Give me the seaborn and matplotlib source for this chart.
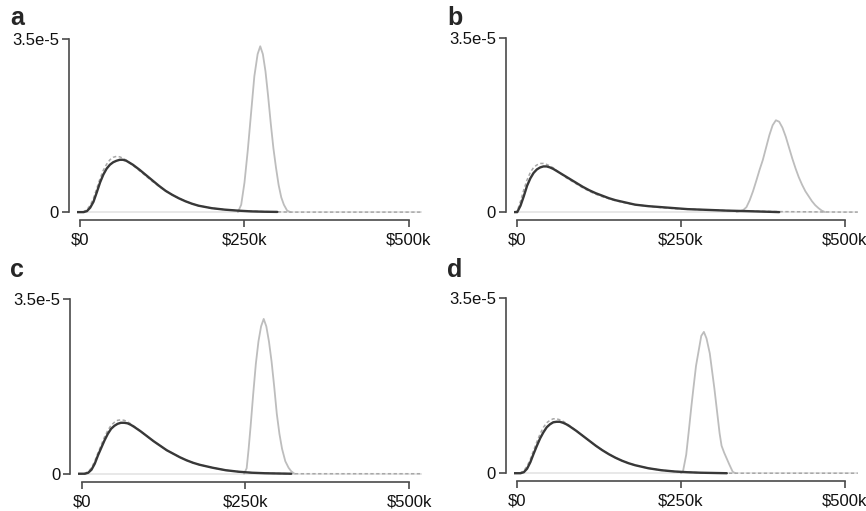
import numpy as np
import pandas as pd
import matplotlib.pyplot as plt
import seaborn as sns

# x grid (in $k) shared by the true density (solid) and the estimate (dashed)
x_main = [-5, 0, 5, 10, 15, 20, 25, 30, 35, 40, 45, 50, 55, 60, 65, 70, 75, 80, 90, 100,
          110, 120, 130, 140, 150, 160, 170, 180, 200, 220, 240, 260, 280, 300, 320, 350,
          400, 450, 500, 520]

# densities in units of 1e-5
dark_a = [0, 0, 0, 0.02, 0.09, 0.21, 0.40, 0.60, 0.76, 0.88, 0.96, 1.01, 1.04, 1.06, 1.06, 1.04,
          1.00, 0.96, 0.86, 0.75, 0.64, 0.53, 0.43, 0.35, 0.28, 0.22, 0.17, 0.13, 0.08, 0.05,
          0.03, 0.015, 0.008, 0.004, 0, 0, 0, 0, 0, 0]
dash_a = [0, 0, 0.01, 0.05, 0.14, 0.28, 0.48, 0.68, 0.85, 0.97, 1.06, 1.11, 1.13, 1.12, 1.09, 1.05,
          1.00, 0.95, 0.84, 0.73, 0.62, 0.52, 0.43, 0.35, 0.28, 0.22, 0.17, 0.13, 0.08, 0.05,
          0.03, 0.02, 0.01, 0.005, 0, 0, 0, 0, 0, 0]
dark_b = [0, 0, 0.13, 0.32, 0.53, 0.68, 0.79, 0.86, 0.90, 0.92, 0.92, 0.90, 0.87, 0.83, 0.79, 0.75,
          0.71, 0.67, 0.59, 0.51, 0.44, 0.38, 0.33, 0.28, 0.24, 0.21, 0.18, 0.15, 0.12, 0.10,
          0.08, 0.06, 0.05, 0.04, 0.03, 0.02, 0, 0, 0, 0]
dash_b = [0, 0.02, 0.22, 0.45, 0.65, 0.80, 0.90, 0.95, 0.98, 0.98, 0.96, 0.93, 0.89, 0.84, 0.79, 0.74,
          0.69, 0.65, 0.57, 0.49, 0.42, 0.36, 0.31, 0.27, 0.23, 0.20, 0.17, 0.15, 0.12, 0.09,
          0.07, 0.06, 0.05, 0.04, 0.03, 0.02, 0.01, 0.005, 0, 0]
dark_c = [0, 0, 0, 0.02, 0.08, 0.20, 0.37, 0.52, 0.67, 0.80, 0.90, 0.96, 1.00, 1.02, 1.02, 1.01,
          0.98, 0.94, 0.85, 0.75, 0.65, 0.56, 0.47, 0.40, 0.33, 0.27, 0.22, 0.18, 0.12, 0.07,
          0.04, 0.02, 0.01, 0.005, 0, 0, 0, 0, 0, 0]
dash_c = [0, 0, 0.01, 0.04, 0.12, 0.25, 0.42, 0.58, 0.74, 0.87, 0.97, 1.03, 1.07, 1.08, 1.07, 1.04,
          1.00, 0.95, 0.85, 0.75, 0.65, 0.56, 0.47, 0.40, 0.33, 0.27, 0.22, 0.18, 0.12, 0.07,
          0.04, 0.02, 0.01, 0.005, 0, 0, 0, 0, 0, 0]
dark_d = [0, 0, 0, 0.02, 0.09, 0.22, 0.39, 0.55, 0.70, 0.82, 0.92, 0.98, 1.02, 1.03, 1.03, 1.01,
          0.98, 0.94, 0.85, 0.75, 0.65, 0.55, 0.46, 0.38, 0.31, 0.25, 0.20, 0.16, 0.10, 0.06,
          0.035, 0.02, 0.01, 0.005, 0, 0, 0, 0, 0, 0]
dash_d = [0, 0, 0.01, 0.05, 0.14, 0.28, 0.46, 0.63, 0.79, 0.92, 1.01, 1.06, 1.09, 1.09, 1.07, 1.04,
          1.00, 0.95, 0.85, 0.75, 0.65, 0.55, 0.46, 0.38, 0.31, 0.25, 0.20, 0.16, 0.10, 0.06,
          0.035, 0.02, 0.01, 0.005, 0, 0, 0, 0, 0, 0]
# where the solid line stops ($k)
dark_end = {"a": 315, "b": 400, "c": 320, "d": 328}

# the narrow grey peaks
spike_x_a = [240, 245, 250, 255, 260, 265, 270, 274, 278, 282, 286, 290, 294, 298, 302, 306, 310, 315, 320]
spike_a = [0, 0.15, 0.6, 1.25, 2.0, 2.75, 3.2, 3.36, 3.2, 2.85, 2.35, 1.8, 1.3, 0.9, 0.55, 0.3, 0.15, 0.03, 0]
spike_x_b = [335, 345, 350, 355, 360, 365, 370, 375, 380, 385, 390, 395, 400, 405, 410, 415, 420,
             425, 430, 435, 440, 445, 450, 455, 460, 465, 470]
spike_b = [0, 0.04, 0.1, 0.24, 0.42, 0.63, 0.85, 1.05, 1.3, 1.55, 1.75, 1.85, 1.82, 1.7, 1.52, 1.3,
           1.08, 0.88, 0.7, 0.55, 0.42, 0.32, 0.22, 0.14, 0.08, 0.03, 0]
spike_x_c = [248, 252, 255, 258, 262, 266, 270, 274, 278, 282, 286, 290, 294, 298, 302, 306, 311, 316, 320, 325]
spike_c = [0, 0.11, 0.5, 0.95, 1.6, 2.2, 2.65, 2.95, 3.1, 2.95, 2.65, 2.25, 1.75, 1.2, 0.8, 0.5, 0.25, 0.12, 0.05, 0]
spike_x_d = [250, 253, 258, 262, 266, 269, 273, 277, 281, 285, 289, 294, 298, 301, 305, 309, 312, 316, 320, 324, 329, 333]
spike_d = [0, 0.03, 0.37, 0.85, 1.35, 1.7, 2.15, 2.45, 2.75, 2.83, 2.7, 2.4, 2.0, 1.7, 1.25, 0.8, 0.55,
           0.41, 0.29, 0.17, 0.03, 0]

panels = ["a", "b", "c", "d"]
darks = {"a": dark_a, "b": dark_b, "c": dark_c, "d": dark_d}
dashes = {"a": dash_a, "b": dash_b, "c": dash_c, "d": dash_d}
spikes = {"a": (spike_x_a, spike_a), "b": (spike_x_b, spike_b),
          "c": (spike_x_c, spike_c), "d": (spike_x_d, spike_d)}

x_ticks = [0, 250000, 500000]
x_ticklabels = ["$0", "$250k", "$500k"]
y_ticks = [0, 3.5e-5]
y_ticklabels = ["0", "3.5e-5"]

sns.set_theme(style="ticks")
plt.rcParams["font.family"] = ["Liberation Sans", "DejaVu Sans"]

fig = plt.figure(figsize=(8.66, 5.11), dpi=100)
# axes boxes (left, bottom, width, height) in figure fractions
boxes = {"a": [0.089, 0.582, 0.398, 0.341], "b": [0.5935, 0.582, 0.397, 0.343],
         "c": [0.0905, 0.070, 0.397, 0.345], "d": [0.5935, 0.071, 0.397, 0.345]}
letter_pos = {"a": (0.012, 0.951), "b": (0.516, 0.951), "c": (0.012, 0.457), "d": (0.516, 0.457)}

spine_col = "#4a4a4a"
for p in panels:
    ax = fig.add_axes(boxes[p])
    df = pd.DataFrame({"x": np.array(x_main) * 1000.0,
                       "dark": np.array(darks[p]) * 1e-5,
                       "dash": np.array(dashes[p]) * 1e-5})
    sx, sy = spikes[p]
    sp = pd.DataFrame({"x": np.array(sx) * 1000.0, "y": np.array(sy) * 1e-5})

    ax.axhline(0, color="#e4e4e4", lw=1.2, zorder=1)
    sns.lineplot(data=sp, x="x", y="y", ax=ax, color="#bdbdbd", lw=1.3, estimator=None, zorder=2)
    sns.lineplot(data=df, x="x", y="dash", ax=ax, color="#a8a8a8", lw=1.1, estimator=None,
                 linestyle=(0, (2.2, 1.6)), zorder=3)
    dd = df[df["x"] <= dark_end[p] * 1000]
    sns.lineplot(data=dd, x="x", y="dark", ax=ax, color="#383838", lw=1.7, estimator=None, zorder=4)

    ax.set_xlim(-5000, 520000)
    ax.set_ylim(-0.03e-5, 3.5e-5)
    ax.set_xticks(x_ticks)
    ax.set_xticklabels(x_ticklabels)
    ax.set_yticks(y_ticks)
    ax.set_yticklabels(y_ticklabels)
    ax.set_xlabel("")
    ax.set_ylabel("")
    ax.tick_params(axis="both", direction="out", length=5, width=1.2, color=spine_col,
                   labelsize=12, labelcolor="#111111")
    ax.tick_params(axis="x", pad=4)
    ax.tick_params(axis="y", pad=2)
    sns.despine(ax=ax, offset={"left": 6, "bottom": 4.7}, trim=True)
    for s in ["left", "bottom"]:
        ax.spines[s].set_color(spine_col)
        ax.spines[s].set_linewidth(1.2)
    fig.text(letter_pos[p][0], letter_pos[p][1], p, fontsize=18, fontweight="bold", va="baseline")

fig.savefig("out.png", dpi=100)
